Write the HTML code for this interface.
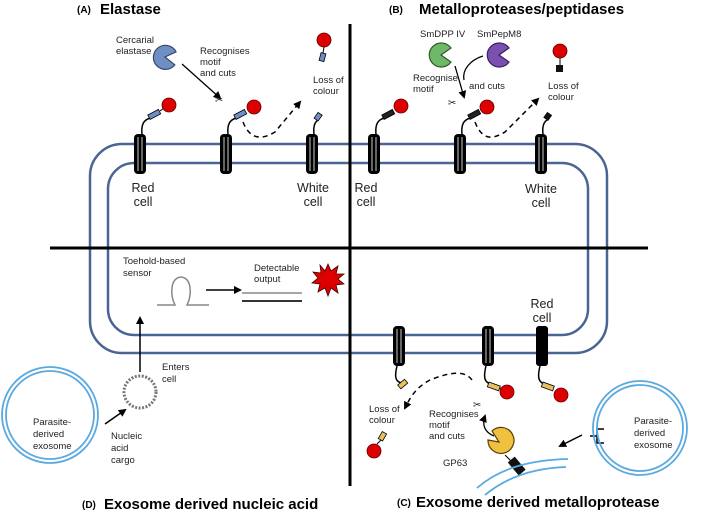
<!DOCTYPE html>
<html><head><meta charset="utf-8"><style>
html,body{margin:0;padding:0;background:#fff;}
svg{display:block;}
text{font-family:"Liberation Sans",Arial,sans-serif;fill:#222;}
.s{font-size:9.5px;}
.m{font-size:12.5px;}
.t{font-size:15px;font-weight:bold;fill:#000;}
.l{font-size:10px;font-weight:bold;fill:#000;}
</style></head><body>
<svg width="709" height="516" viewBox="0 0 709 516" xmlns="http://www.w3.org/2000/svg">
<defs>
<marker id="ah" markerWidth="8" markerHeight="8" refX="6" refY="4" orient="auto" markerUnits="userSpaceOnUse"><path d="M0,0 L8,4 L0,8 Z" fill="#000"/></marker>
<g id="rec">
<rect x="-6" y="0" width="12" height="40" rx="4" fill="#000"/>
<line x1="-2" y1="3" x2="-2" y2="37" stroke="#fff" stroke-width="0.8"/>
<line x1="2" y1="3" x2="2" y2="37" stroke="#fff" stroke-width="0.8"/>
</g>
</defs>

<!-- cell membrane -->
<rect x="90" y="144" width="517" height="209" rx="32" fill="none" stroke="#4a6494" stroke-width="2.5"/>
<rect x="108" y="163" width="480" height="172" rx="26" fill="none" stroke="#4a6494" stroke-width="2.5"/>

<!-- cross lines -->
<line x1="350" y1="24" x2="350" y2="486" stroke="#000" stroke-width="3"/>
<line x1="50" y1="248" x2="648" y2="248" stroke="#000" stroke-width="3"/>

<!-- Titles -->
<text x="77" y="13" class="l">(A)</text><text x="100" y="14" class="t">Elastase</text>
<text x="389" y="13" class="l">(B)</text><text x="419" y="14" class="t">Metalloproteases/peptidases</text>
<text x="397" y="506" class="l">(C)</text><text x="416" y="507" class="t">Exosome derived metalloprotease</text>
<text x="82" y="508" class="l">(D)</text><text x="104" y="509" class="t">Exosome derived nucleic acid</text>

<!-- Panel A -->
<path d="M165,57 L175,50 A12,12 0 1 0 176,63 Z" fill="#6f8fc4" stroke="#33476b" stroke-width="1.2" transform="rotate(10 165 57)"/>
<text x="116" y="43" class="s">Cercarial</text><text x="116" y="54" class="s">elastase</text>
<text x="200" y="54" class="s">Recognises</text><text x="200" y="65" class="s">motif</text><text x="200" y="76" class="s">and cuts</text>
<line x1="182" y1="64" x2="220" y2="98" stroke="#000" stroke-width="1.3" marker-end="url(#ah)"/>
<text x="313" y="83" class="s">Loss of</text><text x="313" y="94" class="s">colour</text>
<!-- receptors A -->
<use href="#rec" x="140" y="134"/>
<path d="M142,134 C141,124 144,120 150,118" fill="none" stroke="#000" stroke-width="1.5"/>
<rect x="148" y="112" width="12" height="5" fill="#6f8fc4" stroke="#000" stroke-width="0.8" transform="rotate(-28 154 114)"/>
<line x1="160" y1="111" x2="164" y2="108" stroke="#000" stroke-width="1"/>
<circle cx="169" cy="105" r="7" fill="#d00" stroke="#600" stroke-width="0.8"/>
<use href="#rec" x="226" y="134"/>
<path d="M228,134 C227,124 230,120 236,118" fill="none" stroke="#000" stroke-width="1.5"/>
<rect x="234" y="112" width="12" height="5" fill="#6f8fc4" stroke="#000" stroke-width="0.8" transform="rotate(-28 240 114)"/>
<circle cx="254" cy="107" r="7" fill="#d00" stroke="#600" stroke-width="0.8"/>
<text x="215" y="103" font-size="10">✂</text>
<path d="M243,122 C250,140 262,140 275,132 L300,102" fill="none" stroke="#000" stroke-width="1.5" stroke-dasharray="5,4" marker-end="url(#ah)"/>
<circle cx="324" cy="40" r="7" fill="#d00" stroke="#600" stroke-width="0.8"/>
<line x1="324" y1="47" x2="323" y2="53" stroke="#000"/>
<rect x="320" y="53" width="5" height="8" fill="#6f8fc4" stroke="#000" stroke-width="0.8" transform="rotate(15 322 57)"/>
<use href="#rec" x="312" y="134"/>
<path d="M314,134 C313,126 315,122 318,120" fill="none" stroke="#000" stroke-width="1.5"/>
<rect x="316" y="113" width="5" height="7" fill="#6f8fc4" stroke="#000" stroke-width="0.8" transform="rotate(35 318 116)"/>
<text x="143" y="192" class="m" text-anchor="middle">Red</text><text x="143" y="206" class="m" text-anchor="middle">cell</text>
<text x="313" y="192" class="m" text-anchor="middle">White</text><text x="313" y="206" class="m" text-anchor="middle">cell</text>

<!-- Panel B -->
<text x="420" y="37" class="s">SmDPP IV</text><text x="477" y="37" class="s">SmPepM8</text>
<path d="M441,55 L451,48 A12,12 0 1 0 451,62 Z" fill="#6fb86a" stroke="#2d5a2a" stroke-width="1.2"/>
<path d="M499,55 L509,48 A12,12 0 1 0 509,62 Z" fill="#7a4fb0" stroke="#3a2060" stroke-width="1.2"/>
<line x1="455" y1="66" x2="464" y2="97" stroke="#000" stroke-width="1.3" marker-end="url(#ah)"/>
<path d="M483,56 C470,60 462,70 464,80" fill="none" stroke="#000" stroke-width="1.3"/>
<text x="413" y="81" class="s">Recognise</text><text x="413" y="92" class="s">motif</text>
<text x="469" y="89" class="s">and cuts</text>
<text x="548" y="89" class="s">Loss of</text><text x="548" y="100" class="s">colour</text>
<use href="#rec" x="374" y="134"/>
<path d="M376,134 C375,124 378,120 384,118" fill="none" stroke="#000" stroke-width="1.5"/>
<rect x="382" y="112" width="12" height="5" fill="#222" stroke="#000" stroke-width="0.8" transform="rotate(-28 388 114)"/>
<circle cx="401" cy="106" r="7" fill="#d00" stroke="#600" stroke-width="0.8"/>
<use href="#rec" x="460" y="134"/>
<path d="M462,134 C461,124 464,120 470,118" fill="none" stroke="#000" stroke-width="1.5"/>
<rect x="468" y="112" width="12" height="5" fill="#222" stroke="#000" stroke-width="0.8" transform="rotate(-28 474 114)"/>
<circle cx="487" cy="107" r="7" fill="#d00" stroke="#600" stroke-width="0.8"/>
<text x="448" y="106" font-size="10">✂</text>
<path d="M475,122 C482,140 492,140 505,132 L538,99" fill="none" stroke="#000" stroke-width="1.5" stroke-dasharray="5,4" marker-end="url(#ah)"/>
<circle cx="560" cy="51" r="7" fill="#d00" stroke="#600" stroke-width="0.8"/>
<line x1="560" y1="58" x2="560" y2="65" stroke="#000"/>
<rect x="556" y="65" width="7" height="7" fill="#111"/>
<use href="#rec" x="541" y="134"/>
<path d="M543,134 C542,126 544,122 547,120" fill="none" stroke="#000" stroke-width="1.5"/>
<rect x="545" y="113" width="6" height="7" fill="#111" transform="rotate(35 548 116)"/>
<text x="366" y="192" class="m" text-anchor="middle">Red</text><text x="366" y="206" class="m" text-anchor="middle">cell</text>
<text x="541" y="193" class="m" text-anchor="middle">White</text><text x="541" y="207" class="m" text-anchor="middle">cell</text>

<!-- Panel D -->
<text x="123" y="264" class="s">Toehold-based</text><text x="123" y="276" class="s">sensor</text>
<path d="M157,305 L175,305 C170,295 170,278 181,277 C192,278 192,295 187,305 L209,305" fill="none" stroke="#888" stroke-width="1.5"/>
<line x1="206" y1="290" x2="240" y2="290" stroke="#000" stroke-width="1.5" marker-end="url(#ah)"/>
<text x="254" y="271" class="s">Detectable</text><text x="254" y="282" class="s">output</text>
<line x1="242" y1="293" x2="302" y2="293" stroke="#888" stroke-width="1.5"/>
<line x1="242" y1="301" x2="302" y2="301" stroke="#333" stroke-width="2"/>
<polygon points="328,264 331,271 338,266 336,274 344,274 338,279 344,284 336,285 338,293 331,288 328,296 325,288 318,292 320,284 312,283 318,278 313,272 321,273 320,265 325,271" fill="#d00" stroke="#400" stroke-width="0.8"/>
<line x1="140" y1="372" x2="140" y2="318" stroke="#000" stroke-width="1.5" marker-end="url(#ah)"/>
<text x="162" y="370" class="s">Enters</text><text x="162" y="382" class="s">cell</text>
<circle cx="140" cy="392" r="16" fill="none" stroke="#777" stroke-width="3" stroke-dasharray="2,1.5"/>
<circle cx="50" cy="415" r="48" fill="none" stroke="#5aa9e0" stroke-width="1.8"/>
<circle cx="50" cy="415" r="44" fill="none" stroke="#5aa9e0" stroke-width="1.8"/>
<text x="33" y="425" class="s">Parasite-</text><text x="33" y="437" class="s">derived</text><text x="33" y="449" class="s">exosome</text>
<line x1="105" y1="424" x2="125" y2="410" stroke="#000" stroke-width="1.5" marker-end="url(#ah)"/>
<text x="111" y="439" class="s">Nucleic</text><text x="111" y="451" class="s">acid</text><text x="111" y="463" class="s">cargo</text>

<!-- Panel C -->
<text x="542" y="308" class="m" text-anchor="middle">Red</text><text x="542" y="322" class="m" text-anchor="middle">cell</text>
<use href="#rec" x="399" y="326"/>
<path d="M397,366 C394,378 396,382 402,383" fill="none" stroke="#000" stroke-width="1.5"/>
<rect x="398" y="382" width="9" height="5" fill="#e8c060" stroke="#000" stroke-width="0.8" transform="rotate(-40 402 384)"/>
<use href="#rec" x="488" y="326"/>
<path d="M486,366 C483,378 485,382 490,384" fill="none" stroke="#000" stroke-width="1.5"/>
<rect x="488" y="384" width="12" height="5" fill="#e8c060" stroke="#000" stroke-width="0.8" transform="rotate(20 494 386)"/>
<line x1="500" y1="388" x2="504" y2="390" stroke="#000"/>
<circle cx="507" cy="392" r="7" fill="#d00" stroke="#600" stroke-width="0.8"/>
<use href="#rec" x="542" y="326"/>
<rect x="536" y="326" width="12" height="40" rx="3" fill="#000"/>
<path d="M540,366 C537,378 539,382 544,384" fill="none" stroke="#000" stroke-width="1.5"/>
<rect x="542" y="384" width="12" height="5" fill="#e8c060" stroke="#000" stroke-width="0.8" transform="rotate(20 548 386)"/>
<circle cx="561" cy="395" r="7" fill="#d00" stroke="#600" stroke-width="0.8"/>
<text x="473" y="408" font-size="10">✂</text>
<path d="M472,380 C465,370 450,372 430,380 C415,388 410,398 405,408" fill="none" stroke="#000" stroke-width="1.5" stroke-dasharray="5,4" marker-end="url(#ah)"/>
<text x="369" y="412" class="s">Loss of</text><text x="369" y="423" class="s">colour</text>
<circle cx="374" cy="451" r="7" fill="#d00" stroke="#600" stroke-width="0.8"/>
<line x1="377" y1="444" x2="381" y2="440" stroke="#000"/>
<rect x="380" y="432" width="5" height="8" fill="#e8c060" stroke="#000" stroke-width="0.8" transform="rotate(30 382 436)"/>
<text x="429" y="417" class="s">Recognises</text><text x="429" y="428" class="s">motif</text><text x="429" y="439" class="s">and cuts</text>
<path d="M494,436 C484,432 482,424 485,416" fill="none" stroke="#000" stroke-width="1.3" marker-end="url(#ah)"/>
<path d="M499,442 L488,440 A13,13 0 1 0 492,431 Z" fill="#f0c040" stroke="#5a4000" stroke-width="1.2"/>
<text x="443" y="466" class="s">GP63</text>
<line x1="505" y1="455" x2="512" y2="462" stroke="#000" stroke-width="1"/>
<rect x="512" y="458" width="9" height="17" fill="#111" transform="rotate(-40 516 466)"/>
<path d="M477,488 C500,468 530,460 568,459" fill="none" stroke="#5aa9e0" stroke-width="1.8"/>
<path d="M485,495 C508,476 535,468 566,467" fill="none" stroke="#5aa9e0" stroke-width="1.8"/>
<line x1="582" y1="435" x2="560" y2="446" stroke="#000" stroke-width="1.5" marker-end="url(#ah)"/>
<path d="M590,436 L597,436 M604,429 L597,429 L597,443 L604,443" fill="none" stroke="#000" stroke-width="1.5"/>
<circle cx="640" cy="428" r="47" fill="none" stroke="#5aa9e0" stroke-width="1.8"/>
<circle cx="640" cy="428" r="43" fill="none" stroke="#5aa9e0" stroke-width="1.8"/>
<text x="634" y="424" class="s">Parasite-</text><text x="634" y="436" class="s">derived</text><text x="634" y="448" class="s">exosome</text>
</svg>
</body></html>
